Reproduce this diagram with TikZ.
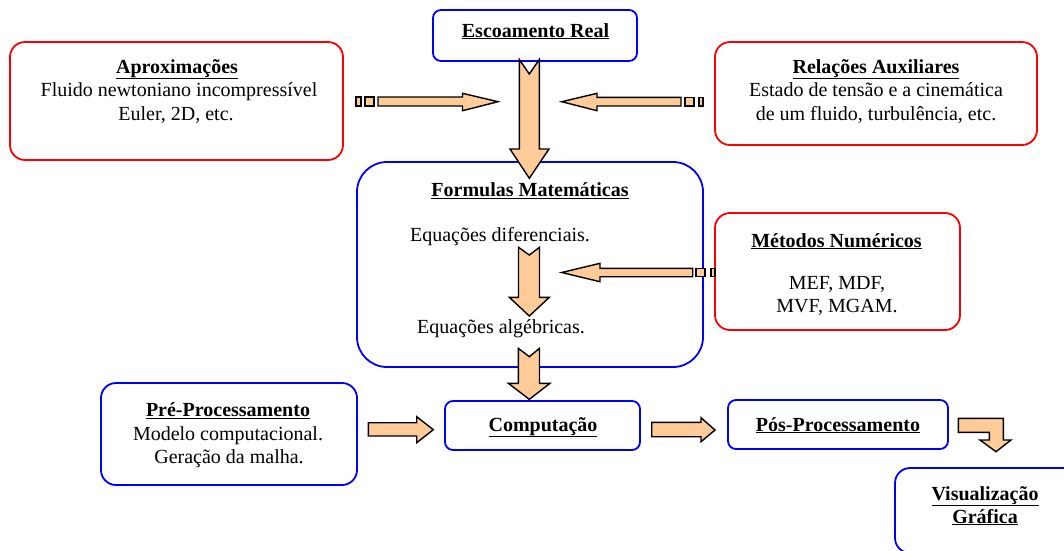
\documentclass[tikz,border=0pt]{standalone}
\usepackage{fontspec}
\setmainfont{Liberation Serif}
\usepackage{xcolor}
\usepackage{tikz}

\definecolor{peach}{RGB}{255,204,153}
\definecolor{boxblue}{RGB}{0,0,255}
\definecolor{boxred}{RGB}{255,0,0}

\tikzset{
	bluebox/.style={draw=boxblue, line width=1.8pt, rounded corners=#1},
	bluebox/.default=8pt,
	redbox/.style={draw=boxred, line width=1.8pt, rounded corners=15pt},
	label/.style={inner sep=0pt, anchor=base, align=center, font=\fontsize{20}{23.5}\selectfont},
	blockarrow/.style={fill=peach, draw=black, line width=1.4pt, line join=miter},
}
\newcommand{\ttl}[1]{\textbf{\underline{#1}}}

\begin{document}
\begin{tikzpicture}[x=1pt, y=-1pt]
		\useasboundingbox (0,0) rectangle (1064,550);
		\clip (0,0) rectangle (1064,550);

		% boxes
		\node[bluebox, minimum width=204pt, minimum height=51pt] (real) at (535,35.5) {};
		\node[redbox, minimum width=333pt, minimum height=118pt] (aprox) at (176.5,101) {};
		\node[redbox, minimum width=322pt, minimum height=103pt] (relac) at (876,93.5) {};
		\node[bluebox=30pt, minimum width=346pt, minimum height=205pt] (formulas) at (530,264.5) {};
		\node[redbox, minimum width=245pt, minimum height=117pt] (metodos) at (837.5,271.5) {};
		\node[bluebox=15pt, minimum width=256pt, minimum height=102pt] (pre) at (229,434) {};
		\node[bluebox, minimum width=195pt, minimum height=49pt] (comp) at (542.5,425.5) {};
		\node[bluebox, minimum width=220pt, minimum height=49pt] (pos) at (838,424.5) {};
		\node[bluebox=15pt, minimum width=195pt, minimum height=85pt] (visual) at (992.5,510.5) {};

		% texts
		\node[label] (realtxt) at (535.5,37) {\ttl{Escoamento Real}};
		\node[label] (aproxt) at (177,73) {\ttl{Aproximações}};
		\node[label] (aprox1) at (179,96.5) {Fluido newtoniano incompressível};
		\node[label] (aprox2) at (176,120) {Euler, 2D, etc.};
		\node[label] (relact) at (876,73) {\ttl{Relações Auxiliares}};
		\node[label] (relac1) at (876,96.5) {Estado de tensão e a cinemática};
		\node[label] (relac2) at (876,120) {de um fluido, turbulência, etc.};
		\node[label] (formt) at (530,196.5) {\ttl{Formulas Matemáticas}};
		\node[label] (diff) at (500,241) {Equações diferenciais.};
		\node[label] (alg) at (501,333) {Equações algébricas.};
		\node[label] (metodt) at (836.5,247) {\ttl{Métodos Numéricos}};
		\node[label] (metod1) at (837,289.5) {MEF, MDF,};
		\node[label] (metod2) at (837,312) {MVF, MGAM.};
		\node[label] (pret) at (228,416.5) {\ttl{Pré-Processamento}};
		\node[label] (pre1) at (228,440) {Modelo computacional.};
		\node[label] (pre2) at (229,463) {Geração da malha.};
		\node[label] (comptxt) at (543,431) {\ttl{Computação}};
		\node[label] (postxt) at (838,431) {\ttl{Pós-Processamento}};
		\node[label] (vis1) at (985,500) {\ttl{Visualização}};
		\node[label] (vis2) at (985,523) {\ttl{Gráfica}};

		% block arrows
		\draw[blockarrow] (356,97) rectangle (361,106);
		\draw[blockarrow] (365,97) rectangle (374,106);
		\draw[blockarrow] (378,97) -- (462.5,97) -- (462.5,93.3) -- (498,101.7)
			-- (462.5,110.7) -- (462.5,106) -- (378,106) -- cycle;

		\draw[blockarrow] (699,97.3) rectangle (703,106);
		\draw[blockarrow] (685,97.3) rectangle (694,106);
		\draw[blockarrow] (681,97.3) -- (597,97.3) -- (597,93.3) -- (561.7,101.7)
			-- (597,110.7) -- (597,106) -- (681,106) -- cycle;

		\draw[blockarrow] (519.3,59.5) -- (529.3,74) -- (539.3,59.5) -- (539.3,149)
			-- (549,149) -- (529.3,178.3) -- (510,149) -- (519.3,149) -- cycle;

		\draw[blockarrow] (518.5,247.3) -- (529.3,255) -- (539.5,247.3) -- (539.5,297.3)
			-- (549.3,297.3) -- (529.3,316) -- (509.3,297.3) -- (518.5,297.3) -- cycle;

		\draw[blockarrow] (711,268.3) rectangle (715,276.7);
		\draw[blockarrow] (696,268.3) rectangle (705,276.7);
		\draw[blockarrow] (692.7,268.3) -- (600,268.3) -- (600,263.3) -- (561.7,272.5)
			-- (600,281.7) -- (600,276.7) -- (692.7,276.7) -- cycle;

		\draw[blockarrow] (518.3,348.3) -- (529.3,356.7) -- (539.5,348.3) -- (539.5,383.3)
			-- (550,383.3) -- (529.3,399.3) -- (508.3,383.3) -- (518.3,383.3) -- cycle;

		\draw[blockarrow] (368.3,422.7) -- (416.7,422.7) -- (416.7,416.7) -- (433.3,429.7)
			-- (416.7,442.7) -- (416.7,436) -- (368.3,436) -- cycle;

		\draw[blockarrow] (651.7,422.3) -- (701,422.3) -- (701,417.7) -- (715,430)
			-- (701,441.7) -- (701,436.7) -- (651.7,436.7) -- cycle;

		\draw[blockarrow] (958.3,418.3) -- (1003.3,418.3) -- (1003.3,440) -- (1011,440)
			-- (996,451.7) -- (980,440) -- (989.3,440) -- (989.3,432.3) -- (958.3,432.3) -- cycle;
	\end{tikzpicture}
\end{document}
